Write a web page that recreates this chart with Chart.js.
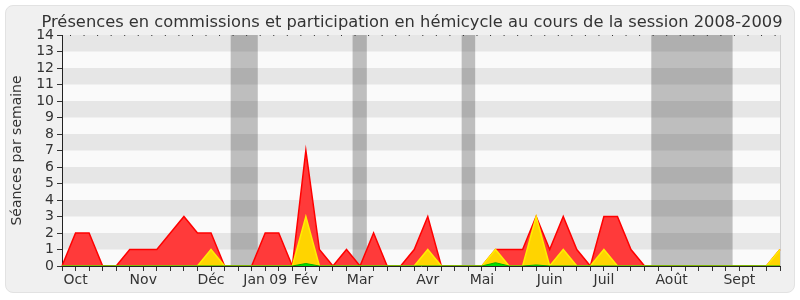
<!DOCTYPE html>
<html>
<head>
<meta charset="utf-8">
<script src="https://cdn.jsdelivr.net/npm/chart.js@4"></script>
<style>
  html, body { margin: 0; padding: 0; background: #ffffff; }
  #wrap { position: relative; width: 800px; height: 300px; }
  #card { position: absolute; left: 5px; top: 5px; width: 788px; height: 286px;
          background: #f0f0f0; border: 1px solid #e2e2e2; border-radius: 8px; }
  canvas { position: absolute; left: 0; top: 0; }
</style>
</head>
<body>
<div id="wrap">
  <div id="card"></div>
  <canvas id="c" width="800" height="300"></canvas>
</div>
<script>
// ---- data ----
const chartTitle = 'Présences en commissions et participation en hémicycle au cours de la session 2008-2009';
const weekLabels = ["", "Oct", "", "", "", "", "Nov", "", "", "", "", "Déc", "", "", "", "Jan 09", "", "", "Fév", "", "", "", "Mar", "", "", "", "", "Avr", "", "", "", "Mai", "", "", "", "", "Juin", "", "", "", "Juil", "", "", "", "", "Août", "", "", "", "", "Sept", "", "", ""];
const presences   = [0,2,2,0,0,1,1,1,2,3,2,2,0,0,0,2,2,0,7,1,0,1,0,2,0,0,1,3,0,0,0,0,1,1,1,3,1,3,1,0,3,3,1,0,0,0,0,0,0,0,0,0,0,1];
const commission  = [0,0,0,0,0,0,0,0,0,0,0,1,0,0,0,0,0,0,3,0,0,0,0,0,0,0,0,1,0,0,0,0,1,0,0,3,0,1,0,0,1,0,0,0,0,0,0,0,0,0,0,0,0,1];
const hemicycle   = [0,0,0,0,0,0,0,0,0,0,0,0,0,0,0,0,0,0,0.15,0,0,0,0,0,0,0,0,0,0,0,0,0,0.2,0,0,0.06,0,0,0,0,0,0,0,0,0,0,0,0,0,0,0,0,0,0];
// vacation periods, as [start, end] in week-index units
const vacances = [[12.45, 14.45], [21.45, 22.5], [29.5, 30.5], [43.5, 49.5]];
const yMax = 14;

const bgPlugin = {
  id: 'bg',
  beforeDraw(chart) {
    const { ctx, chartArea: a, scales } = chart;
    const x = scales.x, y = scales.y;
    ctx.save();
    ctx.fillStyle = '#fafafa';
    ctx.fillRect(a.left, a.top, a.right - a.left, a.bottom - a.top);
    // vacation bands
    ctx.fillStyle = '#bebebe';
    vacances.forEach(([s, e]) => {
      const x0 = x.getPixelForValue(s), x1 = x.getPixelForValue(e);
      ctx.fillRect(x0, a.top, x1 - x0, a.bottom - a.top);
    });
    // stripes
    ctx.fillStyle = 'rgba(0,0,0,0.08)';
    for (let k = 1; k < yMax; k += 2) {
      const y0 = y.getPixelForValue(k + 1), y1 = y.getPixelForValue(k);
      ctx.fillRect(a.left, y0, a.right - a.left, y1 - y0);
    }
    // right edge
    ctx.strokeStyle = '#cfcfcf';
    ctx.lineWidth = 1;
    ctx.beginPath();
    ctx.moveTo(a.right + 0.5, a.top);
    ctx.lineTo(a.right + 0.5, a.bottom);
    ctx.stroke();
    // dotted top line
    ctx.strokeStyle = '#333';
    ctx.setLineDash([1, 12.55]);
    ctx.beginPath();
    const yt = Math.round(y.getPixelForValue(yMax)) + 0.5;
    ctx.moveTo(a.left + 8, yt);
    ctx.lineTo(a.right, yt);
    ctx.stroke();
    ctx.restore();
    // title
    ctx.save();
    ctx.fillStyle = '#333';
    ctx.font = '16.3px "DejaVu Sans"';
    ctx.textAlign = 'center';
    ctx.textBaseline = 'alphabetic';
    ctx.fillText(chartTitle, 412, 27);
    ctx.restore();
  }
};

new Chart(document.getElementById('c'), {
  type: 'line',
  data: {
    labels: weekLabels,
    datasets: [
      { label: 'hémicycle', data: hemicycle, borderColor: '#00b000', backgroundColor: '#00e000',
        borderWidth: 1, fill: 'origin', pointRadius: 0, tension: 0, order: 0 },
      { label: 'commission', data: commission, borderColor: '#ffee00', backgroundColor: '#ffd400',
        borderWidth: 1.5, fill: 'origin', pointRadius: 0, tension: 0, order: 1 },
      { label: 'présences', data: presences, borderColor: '#ff0000', backgroundColor: '#ff3a3a',
        borderWidth: 1.5, fill: 'origin', pointRadius: 0, tension: 0, order: 2 }
    ]
  },
  options: {
    responsive: false,
    animation: false,
    events: [],
    layout: { padding: { left: 5, right: 20, top: 35, bottom: 0 } },
    plugins: {
      legend: { display: false },
      tooltip: { enabled: false },
      title: { display: false }
    },
    scales: {
      x: {
        type: 'category',
        offset: false,
        afterFit(s) { s.height = 34; },
        grid: { display: true, drawOnChartArea: false, tickLength: 5, color: '#333', offset: false },
        border: { display: true, color: '#222', width: 1 },
        ticks: { autoSkip: false, maxRotation: 0, minRotation: 0, padding: 1, color: '#333',
                 font: { family: 'DejaVu Sans', size: 14 } }
      },
      y: {
        min: 0, max: yMax,
        afterFit(s) { s.width = 57; },
        grid: { display: true, drawOnChartArea: false, tickLength: 5, color: '#333' },
        border: { display: true, color: '#222', width: 1 },
        ticks: { stepSize: 1, autoSkip: false, padding: 3, color: '#333',
                 font: { family: 'DejaVu Sans', size: 14 } },
        title: { display: true, text: 'Séances par semaine', color: '#333',
                 font: { family: 'DejaVu Sans', size: 14 }, padding: { top: 4, bottom: 0 } }
      }
    }
  },
  plugins: [bgPlugin]
});
</script>
</body>
</html>
